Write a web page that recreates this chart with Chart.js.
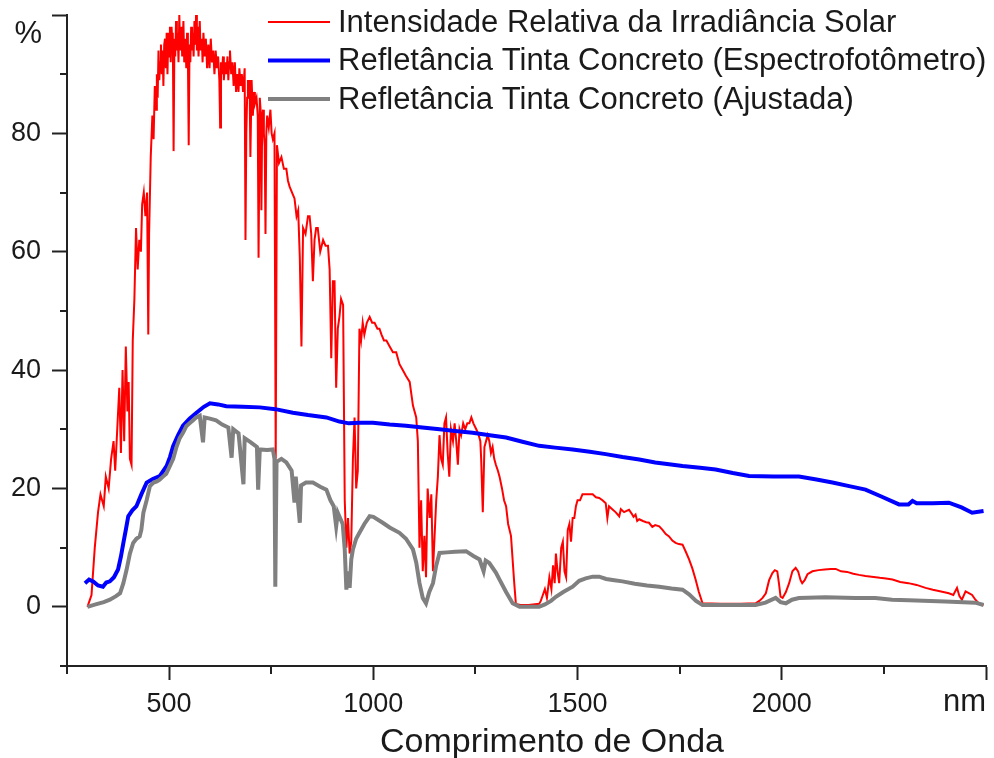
<!DOCTYPE html>
<html>
<head>
    <title>Irradiância Solar e Refletância</title>
    <style>
        body, html {
            margin: 0;
            padding: 0;
            background: #ffffff;
        }
        #wrap {
            width: 994px;
            height: 758px;
            position: relative;
        }
    </style>
</head>
<body>
    <div id="wrap"><canvas id="grafico"></canvas></div>

    <script src="https://cdn.jsdelivr.net/npm/chart.js"></script>
    <script>
        // Intensidade relativa da irradiância solar (%)
        let solarNm = [300, 310, 318, 326, 332, 340, 345, 352, 358, 364, 368, 373, 378, 382, 386, 390, 394, 398, 401, 404, 408,
            411, 415, 419, 423, 427, 431, 434, 438, 442, 446, 449, 451, 455, 459, 462, 465, 468, 470, 472, 474, 476, 478, 480,
            482, 484, 486, 488, 490, 492, 494, 496, 498, 500, 502, 504, 506, 508, 509, 511, 513, 515, 517, 519, 521, 523, 525,
            527, 530, 532, 535, 537, 540, 542, 544, 546, 548, 550, 552, 554, 556, 558, 560, 562, 564, 566, 568, 570, 572, 575,
            577, 580, 582, 584, 587, 590, 593, 596, 599, 602, 605, 608, 611, 614, 617, 620, 623, 625, 627, 629, 632, 634, 637,
            640, 643, 645, 647, 649, 652, 655, 658, 661, 664, 667, 670, 672, 675, 678, 681, 685, 687, 689, 691, 693, 695, 697,
            699, 702, 705, 708, 710, 714, 717, 719, 722, 724, 726, 728, 730, 732, 734, 736, 738, 740, 744, 748, 751, 754, 758,
            761, 764, 769, 775, 781, 787, 791, 795, 801, 807,
            812, 816, 820, 824, 828, 834, 840, 844, 848, 852, 856, 860, 864, 870, 877, 883, 889, 893, 897, 901, 905, 909, 913,
            917, 921, 926, 930, 934, 938, 942, 946, 950, 954, 958, 962, 966, 970, 974, 978, 984, 991, 997, 1003, 1010, 1015,
            1020, 1026, 1032, 1040, 1048, 1056, 1064, 1072, 1080, 1089, 1093, 1097, 1101, 1105, 1109, 1113, 1117, 1121, 1125,
            1129, 1133, 1138, 1142, 1146, 1150, 1154, 1158, 1162, 1166, 1170, 1174, 1178, 1182, 1186, 1190, 1195, 1199, 1203,
            1207, 1211, 1215, 1220, 1225, 1230, 1235, 1240, 1245, 1252, 1258, 1262, 1264, 1268, 1272, 1276, 1280, 1284, 1288,
            1292, 1296, 1300, 1305, 1309, 1315, 1320, 1325, 1330, 1337, 1341, 1345, 1349, 1360, 1380, 1406, 1410, 1415, 1420,
            1425, 1431, 1436, 1440, 1444, 1447, 1451, 1455, 1460, 1464, 1468, 1472, 1476, 1480, 1484, 1488, 1492, 1496, 1500,
            1506, 1512, 1520, 1529, 1537, 1545, 1553, 1561, 1569, 1573, 1577, 1585, 1593, 1602, 1606, 1614, 1620, 1626, 1632,
            1637, 1642, 1646, 1651, 1660, 1668, 1675, 1683, 1690, 1700, 1708, 1716, 1724, 1732, 1740, 1748, 1757, 1765, 1773,
            1781, 1789, 1797, 1806, 1850, 1900, 1936, 1945, 1953, 1961, 1969, 1977, 1983, 1989, 1993, 1997, 2002, 2010, 2018,
            2026, 2034, 2040, 2046, 2050, 2056, 2063, 2075, 2090, 2105, 2120, 2132, 2145, 2160, 2175, 2189, 2205, 2220, 2240,
            2255, 2271, 2290, 2310, 2330, 2352, 2370, 2390, 2409, 2420, 2429, 2435, 2441, 2450, 2458, 2466, 2474, 2482, 2494];
        let solarVal = [0, 2, 10, 16, 19, 17, 22, 20, 25, 28, 23, 30, 37, 26, 40, 28, 44, 33, 38, 25, 24,
            45, 52, 64, 57, 62, 60, 68, 70, 66, 70, 46, 63, 76, 83, 79, 88, 84, 90, 86, 94, 89, 92, 95,
            90, 94, 88, 95, 96, 91, 97, 90, 97, 93, 98, 92, 98, 95, 97, 77, 96, 93, 99, 94, 97, 92, 100,
            94, 98, 93, 99, 92, 96, 91, 97, 93, 78, 95, 92, 98, 94, 97, 93, 99, 95, 100, 94, 98, 93, 99,
            94, 96, 92, 97, 93, 96, 91, 95, 91, 96, 92, 94, 90, 94, 91, 93, 89, 81, 92, 90, 93, 89, 92,
            90, 93, 89, 92, 94, 90, 92, 88, 92, 87, 90, 87, 91, 88, 90, 87, 91, 62, 80, 86, 89, 86, 89,
            76, 89, 83, 87, 85, 86, 83, 59, 86, 84, 67, 83, 84, 80, 78, 63, 80, 83, 81, 84, 80, 79, 80,
            25, 78, 75, 76, 74, 74, 72, 71, 70, 69,
            66, 67, 59, 44, 64, 63, 66, 66, 63, 55, 62, 64, 64, 60, 62, 61, 61, 57, 42, 55, 55, 37, 47,
            49, 52, 51, 18, 10, 15, 9, 11, 25, 32, 20, 23, 47, 45, 48, 46, 48, 49, 48, 48, 47, 47,
            46, 45, 45, 44, 43, 43, 41, 40, 39, 38, 36, 34, 33, 32, 28, 10, 18, 6, 12,
            5, 20, 15, 19, 6, 12, 18, 22, 29, 25, 24, 31, 32, 26, 22, 30, 28, 31, 28,
            24, 30, 29, 31, 30, 31, 31, 32, 31, 30, 29, 28, 25, 16, 27, 28, 29, 28, 26,
            27, 25, 24, 23, 22, 20, 18, 17, 14, 12, 8, 4, 0.5, 0.3, 0.3, 0.5, 1, 2, 3,
            1.5, 5, 3, 7, 4, 9, 6, 4, 10, 11, 6, 5, 13, 14, 11, 15, 15, 17, 18,
            18, 19, 19, 19, 19, 18.5, 18.4, 18, 17.5, 15, 17, 16.5, 16, 15.3, 16.5, 16, 16.2, 16.4, 15.8,
            15.2, 15.6, 14.5, 14.8, 14.5, 14.3, 14.2, 13.5, 13.8, 13.6, 13, 12.3, 11.9, 11.2, 10.8, 10.6, 10.5, 9.3, 8,
            6.5, 4.6, 2.5, 0.6, 0.5, 0.5, 0.6, 1, 1.5, 2.3, 4.5, 5.7, 6.2, 6, 4, 1.7, 1.5, 2.5, 4,
            6, 6.6, 6, 4.5, 4, 4.5, 5.5, 6, 6.2, 6.3, 6.4, 6.4, 6, 5.9, 5.6, 5.4, 5.2, 5.1, 4.9,
            4.8, 4.6, 4.2, 4, 3.7, 3.2, 2.9, 2.6, 2.3, 2, 3.2, 1.8, 1.2, 2.6, 2.3, 2, 1.2, 0.6, 0.3];

        // Refletância medida no espectrofotômetro (%)
        let espectroNm = [294, 304, 314, 326, 338, 346, 355, 365, 375, 382, 388, 394, 400, 410, 420, 432, 445, 460, 477, 494,
            502, 510, 522, 534, 550, 567, 585, 600, 620, 640, 680, 722, 760, 803, 840, 885, 917, 940, 966, 999, 1040, 1080,
            1120, 1162, 1200, 1243, 1285, 1325, 1365, 1406, 1445, 1488, 1530, 1569, 1610, 1651, 1690, 1724, 1757, 1800, 1838,
            1880, 1920, 1980, 2042, 2085, 2124, 2165, 2205, 2245, 2287, 2310, 2320, 2330, 2370, 2409, 2440, 2466, 2494];
        let espectroVal = [4.0, 4.6, 4.3, 3.6, 3.4, 4.1, 4.3, 5.0, 6.3, 8.5, 10.8, 13, 15.3, 16.3, 17.0, 19, 21.0, 21.6, 22.1, 23.8,
            25.3, 27.2, 29, 30.6, 31.8, 32.8, 33.8, 34.4, 34.2, 33.9, 33.8, 33.7, 33.4, 32.8, 32.4, 32.0, 31.3, 31.0, 31.1, 31.1, 30.8, 30.6,
            30.3, 30.0, 29.7, 29.4, 29.0, 28.6, 27.9, 27.2, 26.9, 26.6, 26.2, 25.8, 25.3, 24.9, 24.4, 24.1, 23.8, 23.5, 23.2,
            22.6, 22.1, 22.0, 22.0, 21.5, 21.0, 20.4, 19.8, 18.6, 17.3, 17.3, 17.9, 17.5, 17.5, 17.6, 16.8, 15.9, 16.2];

        // Refletância ajustada (%)
        let ajustadaNm = [300, 320, 340, 355, 370, 380, 388, 396, 404, 412, 420, 428, 432, 437, 445, 453, 462, 470, 477, 485,
            493, 502, 510, 518, 526, 534, 542, 550, 558, 566, 575, 583, 587, 600, 615, 630, 645, 653, 657, 670, 682, 685,
            700, 715, 718, 722, 740, 754, 758, 760, 763, 775, 787, 800, 807, 810, 820, 823, 835, 852, 870, 885, 895, 903,
            909, 913, 925, 930, 934, 938, 942, 946, 950, 958, 966, 978, 991, 1000, 1023, 1040, 1064, 1080, 1097, 1105,
            1113, 1121, 1129, 1137, 1146, 1154, 1162, 1180, 1200, 1227, 1245, 1260, 1270, 1275, 1284, 1300, 1309, 1325,
            1341, 1358, 1406, 1420, 1435, 1447, 1465, 1488, 1504, 1520, 1537, 1553, 1570, 1590, 1610, 1640, 1670, 1700,
            1730, 1757, 1773, 1790, 1806, 1936, 1960, 1985, 1997, 2010, 2025, 2042, 2107, 2180, 2229, 2270, 2311, 2400,
            2474, 2494];
        let ajustadaVal = [0, 0.4, 0.8, 1.2, 1.8, 2.3, 4, 6.3, 9, 10.8, 11.5, 11.9, 13, 15.9, 18, 20.4, 21, 21.2, 21.5, 22,
            22.5, 23.8, 25, 27, 28.5, 29.4, 30.5, 31, 31.5, 32, 32.3, 27.8, 32, 31.8, 31.5, 30.8, 30.3, 25.2, 30, 29.3, 20.7, 28.5,
            27.8, 27, 19.8, 26.6, 26.5, 26.6, 25, 3.4, 24.5, 25, 24.4, 23, 17.6, 22, 14.2, 20.5, 21, 21, 20.3, 19.8, 18, 17,
            13.6, 15.9, 14, 9.7, 2.9, 6, 3.2, 8, 9.7, 11.5, 12.5, 14, 15.3, 15.2, 14.2, 13.4, 12.5, 11.5, 9.7, 7.5,
            4.0, 1.5, 0.6, 2.5, 4.0, 7, 9.1, 9.2, 9.3, 9.4, 8.6, 8.0, 6, 7.8, 7.4, 5.8, 4.6, 2.5,
            0.6, 0, 0, 0.4, 1, 1.7, 2.5, 3.4, 4.4, 4.8, 5.1, 5.1, 4.7, 4.5, 4.3, 3.9, 3.6, 3.4,
            3.1, 2.9, 2.1, 1, 0.3, 0.3, 0.7, 1.5, 0.8, 0.6, 1.2, 1.5, 1.6, 1.5, 1.5, 1.2, 1.1, 0.9,
            0.7, 0.3];

        let rotulos = ['Intensidade Relativa da Irradiância Solar',
            'Refletância Tinta Concreto (Espectrofotômetro)',
            'Refletância Tinta Concreto (Ajustada)'];
        let ticksX = [500, 1000, 1500, 2000, 2500];
        let ticksY = [0, 20, 40, 60, 80, 100];
        let minorX = [250, 750, 1250, 1750, 2250];
        let minorY = [-10, 10, 30, 50, 70, 90];

        function pares(xs, ys) {
            return xs.map((x, i) => ({ x: x, y: ys[i] }));
        }

        let fonte = '"Liberation Sans", Arial, sans-serif';
        let corTexto = '#1a1a1a';

        // legenda, unidades, titulo do eixo e ticks menores
        let extras = {
            id: 'extras',
            afterDraw(chart) {
                let ctx = chart.ctx;
                let sx = chart.scales.x, sy = chart.scales.y;
                ctx.save();
                ctx.strokeStyle = '#222';
                ctx.lineWidth = 2;
                minorY.forEach(v => {
                    let p = Math.round(sy.getPixelForValue(v));
                    ctx.beginPath();
                    ctx.moveTo(sx.left - 7, p);
                    ctx.lineTo(sx.left, p);
                    ctx.stroke();
                });
                minorX.forEach(v => {
                    let p = Math.round(sx.getPixelForValue(v));
                    ctx.beginPath();
                    ctx.moveTo(p, sy.bottom);
                    ctx.lineTo(p, sy.bottom + 8);
                    ctx.stroke();
                });

                ctx.fillStyle = corTexto;
                ctx.font = '31px ' + fonte;
                ctx.textAlign = 'right';
                ctx.textBaseline = 'alphabetic';
                ctx.fillText('%', 42, 43);
                ctx.fillText('nm', sx.right, 711);

                ctx.textAlign = 'center';
                ctx.font = '34px ' + fonte;
                ctx.fillText('Comprimento de Onda', 552, 752);

                ctx.textAlign = 'left';
                ctx.textBaseline = 'middle';
                ctx.font = '31px ' + fonte;
                chart.data.datasets.forEach((ds, i) => {
                    let y = 22 + i * 38.5;
                    ctx.strokeStyle = ds.borderColor;
                    ctx.lineWidth = ds.borderWidth;
                    ctx.beginPath();
                    ctx.moveTo(268, y);
                    ctx.lineTo(330, y);
                    ctx.stroke();
                    ctx.fillStyle = corTexto;
                    ctx.fillText(ds.label, 338, y + 1);
                });
                ctx.restore();
            }
        };

        new Chart(document.getElementById('grafico'), {
            type: 'line',
            data: {
                datasets: [{
                    label: rotulos[0],
                    data: pares(solarNm, solarVal),
                    borderColor: '#ff0000',
                    borderWidth: 2,
                    order: 3
                }, {
                    label: rotulos[1],
                    data: pares(espectroNm, espectroVal),
                    borderColor: '#0000ff',
                    borderWidth: 4,
                    order: 2
                }, {
                    label: rotulos[2],
                    data: pares(ajustadaNm, ajustadaVal),
                    borderColor: '#808080',
                    borderWidth: 4,
                    order: 1
                }]
            },
            options: {
                responsive: true,
                maintainAspectRatio: false,
                animation: false,
                elements: {
                    point: { radius: 0 },
                    line: { tension: 0, borderJoinStyle: 'miter' }
                },
                layout: {
                    padding: { top: 15, right: 8, left: 0, bottom: 0 }
                },
                plugins: {
                    legend: { display: false },
                    tooltip: { enabled: false }
                },
                scales: {
                    x: {
                        type: 'linear',
                        min: 250,
                        max: 2500,
                        afterBuildTicks: scale => { scale.ticks = ticksX.map(v => ({ value: v })); },
                        afterFit: scale => { scale.height = 92; scale.paddingLeft = 0; scale.paddingRight = 0; },
                        border: { color: '#222', width: 2 },
                        grid: { drawOnChartArea: false, tickLength: 14, tickWidth: 2, tickColor: '#222' },
                        ticks: {
                            padding: 8,
                            color: corTexto,
                            font: { family: fonte, size: 27 },
                            maxRotation: 0,
                            callback: v => v === 2500 ? '' : String(v)
                        }
                    },
                    y: {
                        min: -10,
                        max: 100,
                        afterBuildTicks: scale => { scale.ticks = ticksY.map(v => ({ value: v })); },
                        afterFit: scale => { scale.width = 67; scale.paddingTop = 0; scale.paddingBottom = 0; },
                        border: { color: '#222', width: 2 },
                        grid: { drawOnChartArea: false, tickLength: 15, tickWidth: 2, tickColor: '#222' },
                        ticks: {
                            padding: 11,
                            color: corTexto,
                            font: { family: fonte, size: 27 },
                            callback: v => v === 100 ? '' : String(v)
                        }
                    }
                }
            },
            plugins: [extras]
        });
    </script>
</body>
</html>
